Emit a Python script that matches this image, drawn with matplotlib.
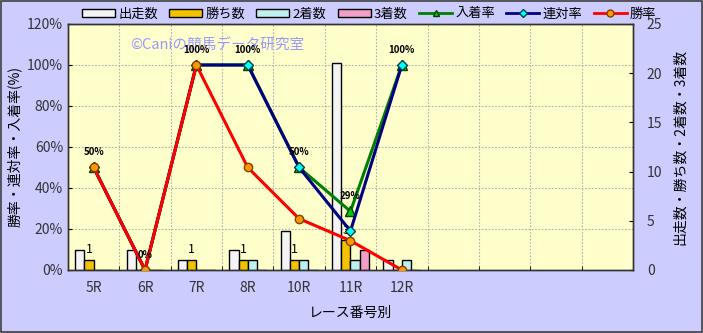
import matplotlib.pyplot as plt
import numpy as np
from matplotlib.lines import Line2D
from matplotlib.patches import Patch

plt.rcParams['font.family'] = ['Noto Sans CJK JP', 'DejaVu Sans']
plt.rcParams['font.size'] = 9

# Data
races = ['5R', '6R', '7R', '8R', '10R', '11R', '12R']
n_slots = 11
starts = [2, 2, 1, 2, 4, 21, 1]
wins = [1, 0, 1, 1, 1, 3, 0]
seconds = [0, 0, 0, 1, 1, 1, 1]
thirds = [0, 0, 0, 0, 0, 2, 0]
win_rate = [50, 0, 100, 50, 25, 14.3, 0]
rentai_rate = [50, 0, 100, 100, 50, 19.0, 100]
place_rate = [50, 0, 100, 100, 50, 28.6, 100]
place_labels = ['50%', '0%', '100%', '100%', '50%', '29%', '100%']

fig = plt.figure(figsize=(7.03, 3.33), dpi=100)
fig.patch.set_facecolor('#CCCCFF')
fig.patches.append(plt.Rectangle((0.001, 0.002), 0.997, 0.995, transform=fig.transFigure,
                                 fill=False, edgecolor='#404040', linewidth=1.2))

ax = fig.add_axes([0.0967, 0.1892, 0.8037, 0.7388])
ax2 = ax.twinx()

# bars on the secondary (count) axis, drawn behind lines
ax.set_zorder(2)
ax.patch.set_visible(False)
ax2.set_zorder(1)
ax2.patch.set_visible(True)
ax2.patch.set_facecolor('#FFFFCC')

# dotted grid (drawn on the bar axis so it sits under everything)
for xb in np.arange(0.5, n_slots - 0.5, 1.0):
    ax2.axvline(xb, color='#B0B0B0', linestyle=(0, (1.5, 1.5)), linewidth=0.8, zorder=0)
for yv in np.arange(20, 121, 20):
    ax2.axhline(yv * 25 / 120, color='#B0B0B0', linestyle=(0, (1.5, 1.5)), linewidth=0.8, zorder=0)

x = np.arange(len(races))
bw = 0.18
bar_colors = ['#F4F4F4', '#F2C200', '#BFF0F0', '#F0A0C8']
series = [starts, wins, seconds, thirds]
for i, (vals, col) in enumerate(zip(series, bar_colors)):
    ax2.bar(x + (i - 1.5) * bw, vals, width=bw, color=col, edgecolor='black',
            linewidth=1.0, zorder=3)

for xi, w in zip(x, wins):
    if w > 0:
        ax2.text(xi - 0.5 * bw, w + 0.4, str(w), ha='center', va='bottom',
                 fontsize=9, zorder=4)

ax2.set_ylim(0, 25)
ax2.set_yticks([0, 5, 10, 15, 20, 25])
ax2.tick_params(axis='y', direction='in', length=3, labelsize=10,
                labelcolor='#333333', pad=10)
ax2.set_ylabel('出走数・勝ち数・2着数・3着数', rotation=90, fontsize=10, labelpad=8)

# lines on the rate axis
ax.plot(x, place_rate, color='#008000', linewidth=2.2, marker='^', markersize=7,
        markerfacecolor='#00CC00', markeredgecolor='#004000', zorder=3)
ax.plot(x, rentai_rate, color='#000080', linewidth=2.2, marker='D', markersize=5,
        markerfacecolor='#00FFFF', markeredgecolor='#004040', zorder=4)
ax.plot(x, win_rate, color='#FF0000', linewidth=2.2, marker='o', markersize=6,
        markerfacecolor='#FF9900', markeredgecolor='#804000', zorder=5)

for xi, v, lab in zip(x, place_rate, place_labels):
    ax.text(xi, v + 5, lab, ha='center', va='bottom', fontsize=7,
            fontweight='bold', zorder=6)

ax.set_xlim(-0.5, n_slots - 0.5)
ax.set_ylim(0, 120)
ax.set_yticks(np.arange(0, 121, 20))
ax.set_yticklabels([f'{v}%' for v in range(0, 121, 20)])
ax.set_xticks(x)
ax.set_xticklabels(races)
ax.set_xticks(np.arange(-0.5, n_slots, 1.0), minor=True)
ax.tick_params(axis='x', which='major', length=0, labelsize=10, labelcolor='#333333', pad=8)
ax.tick_params(axis='x', which='minor', direction='in', length=3)
ax.tick_params(axis='y', direction='in', length=3, labelsize=10, labelcolor='#333333')
ax.set_ylabel('勝率・連対率・入着率(%)', fontsize=10, labelpad=4)
ax.set_xlabel('レース番号別', fontsize=10, labelpad=8)

for a in (ax, ax2):
    for s in a.spines.values():
        s.set_color('#333333')
        s.set_linewidth(1.0)

ax.text(0.11, 0.91, '©Caniの競馬データ研究室', transform=ax.transAxes, fontsize=10.5,
        color='#9999FF', ha='left', va='center', zorder=1)

handles = [
    Patch(facecolor=bar_colors[0], edgecolor='black', label='出走数'),
    Patch(facecolor=bar_colors[1], edgecolor='black', label='勝ち数'),
    Patch(facecolor=bar_colors[2], edgecolor='black', label='2着数'),
    Patch(facecolor=bar_colors[3], edgecolor='black', label='3着数'),
    Line2D([], [], color='#008000', linewidth=2, marker='^', markersize=5,
           markerfacecolor='#00CC00', markeredgecolor='#004000', label='入着率'),
    Line2D([], [], color='#000080', linewidth=2, marker='D', markersize=4,
           markerfacecolor='#00FFFF', markeredgecolor='#004040', label='連対率'),
    Line2D([], [], color='#FF0000', linewidth=2, marker='o', markersize=5,
           markerfacecolor='#FF9900', markeredgecolor='#804000', label='勝率'),
]
fig.legend(handles=handles, loc='center', bbox_to_anchor=(0.525, 0.958), ncol=7,
           frameon=False, fontsize=9.5, handlelength=2.5, handleheight=0.55,
           columnspacing=0.85, handletextpad=0.25, borderpad=0.1)

fig.savefig('out.png', dpi=100, facecolor=fig.get_facecolor())
